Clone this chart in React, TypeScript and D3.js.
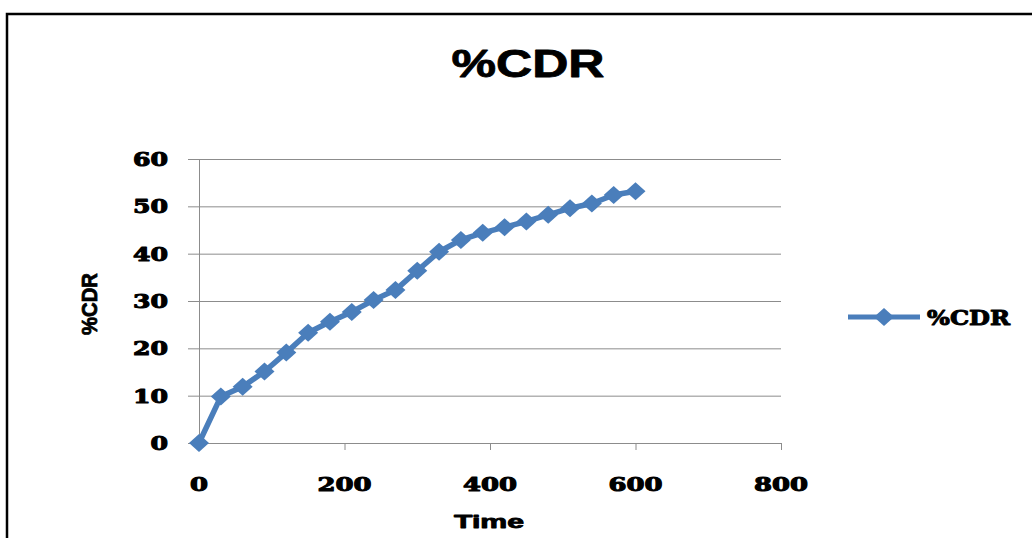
import React, { useEffect, useRef } from 'react';
import * as d3 from 'd3';

const chartTitle = '%CDR';
const xTitle = 'Time';
const yTitle = '%CDR';
const seriesName = '%CDR';

const time = [0, 30, 60, 90, 120, 150, 180, 210, 240, 270, 300, 330, 360, 390, 420, 450, 480, 510, 540, 570, 600];
const cdr = [0, 9.8, 11.9, 15.1, 19.1, 23.3, 25.6, 27.7, 30.2, 32.3, 36.4, 40.4, 42.9, 44.4, 45.6, 46.8, 48.2, 49.6, 50.6, 52.4, 53.2];

const xTicks = [0, 200, 400, 600, 800];
const yTicks = [0, 10, 20, 30, 40, 50, 60];

const BLUE = '#4A7EBB';
const GRID = '#8C8C8C';
const SERIF = "'DejaVu Serif', serif";
const SANS = "'Liberation Sans', Arial, sans-serif";

export default function App() {
  const ref = useRef<SVGSVGElement>(null);

  useEffect(() => {
    if (!ref.current) return;
    const svg = d3.select(ref.current);
    svg.selectAll('*').remove();

    const W = 1032, H = 538;
    const x = d3.scaleLinear().domain([0, 800]).range([199, 781]);
    const y = d3.scaleLinear().domain([0, 60]).range([443, 159]);

    svg.append('rect').attr('width', W).attr('height', H).attr('fill', '#fff');

    // outer frame (only top and left edges are visible)
    svg.append('path')
      .attr('d', `M${W},14 L7,14 L7,${H}`)
      .attr('fill', 'none')
      .attr('stroke', '#000')
      .attr('stroke-width', 2.5);

    // heavier text, closer to the scanned look
    const heavy = (sel, w) => sel
      .attr('font-weight', 'bold')
      .attr('stroke', '#000')
      .attr('stroke-width', w)
      .attr('stroke-linejoin', 'round')
      .attr('lengthAdjust', 'spacingAndGlyphs');

    // title
    svg.append('text')
      .attr('x', 528).attr('y', 77)
      .attr('text-anchor', 'middle')
      .attr('font-family', SANS)
      .attr('font-size', 38)
      .attr('textLength', 153)
      .call(heavy, 0.8)
      .text(chartTitle);

    // horizontal gridlines + y ticks
    svg.append('g').selectAll('line').data(yTicks).join('line')
      .attr('x1', 188).attr('x2', x(800))
      .attr('y1', d => y(d) + 0.5).attr('y2', d => y(d) + 0.5)
      .attr('stroke', GRID).attr('stroke-width', 1);

    // y axis line
    svg.append('line')
      .attr('x1', x(0) + 0.5).attr('x2', x(0) + 0.5)
      .attr('y1', y(60)).attr('y2', y(0))
      .attr('stroke', GRID);

    // x ticks
    svg.append('g').selectAll('line').data(xTicks).join('line')
      .attr('x1', d => x(d) + 0.5).attr('x2', d => x(d) + 0.5)
      .attr('y1', y(0)).attr('y2', y(0) + 7)
      .attr('stroke', GRID);

    // y tick labels
    svg.append('g').selectAll('text').data(yTicks).join('text')
      .attr('x', 168).attr('y', d => y(d) + 7)
      .attr('text-anchor', 'end')
      .attr('font-family', SERIF)
      .attr('font-size', 18)
      .attr('textLength', d => String(d).length * 17.5)
      .call(heavy, 1)
      .text(d => d);

    // x tick labels
    svg.append('g').selectAll('text').data(xTicks).join('text')
      .attr('x', d => x(d)).attr('y', 491)
      .attr('text-anchor', 'middle')
      .attr('font-family', SERIF)
      .attr('font-size', 18)
      .attr('textLength', d => String(d).length * 18)
      .call(heavy, 1)
      .text(d => d);

    // axis titles
    svg.append('text')
      .attr('x', 489).attr('y', 528)
      .attr('text-anchor', 'middle')
      .attr('font-family', SANS)
      .attr('font-size', 18)
      .attr('textLength', 70)
      .call(heavy, 0.8)
      .text(xTitle);

    svg.append('text')
      .attr('transform', 'translate(97,304) rotate(-90)')
      .attr('text-anchor', 'middle')
      .attr('font-family', SANS)
      .attr('font-size', 22)
      .attr('textLength', 62)
      .call(heavy, 0.8)
      .text(yTitle);

    // series
    const data = time.map((t, i) => ({ t, v: cdr[i] }));
    const line = d3.line<{ t: number; v: number }>()
      .x(d => x(d.t))
      .y(d => y(d.v));

    svg.append('path')
      .datum(data)
      .attr('d', line)
      .attr('fill', 'none')
      .attr('stroke', BLUE)
      .attr('stroke-width', 5.5)
      .attr('stroke-linejoin', 'round');

    const diamond = 'M0,-9 L10,0 L0,9 L-10,0 Z';
    svg.append('g').selectAll('path').data(data).join('path')
      .attr('transform', d => `translate(${x(d.t)},${y(d.v)})`)
      .attr('d', diamond)
      .attr('fill', BLUE);

    // legend
    const lg = svg.append('g');
    lg.append('line')
      .attr('x1', 848).attr('x2', 920)
      .attr('y1', 317).attr('y2', 317)
      .attr('stroke', BLUE).attr('stroke-width', 5);
    lg.append('path')
      .attr('transform', 'translate(884,317)')
      .attr('d', diamond)
      .attr('fill', BLUE);
    lg.append('text')
      .attr('x', 927).attr('y', 325)
      .attr('font-family', SERIF)
      .attr('font-size', 21)
      .attr('textLength', 83)
      .call(heavy, 1)
      .text(seriesName);
  }, []);

  return (
    <svg
      ref={ref}
      width={1032}
      height={538}
      style={{ position: 'fixed', left: 0, top: 0, display: 'block' }}
    />
  );
}
